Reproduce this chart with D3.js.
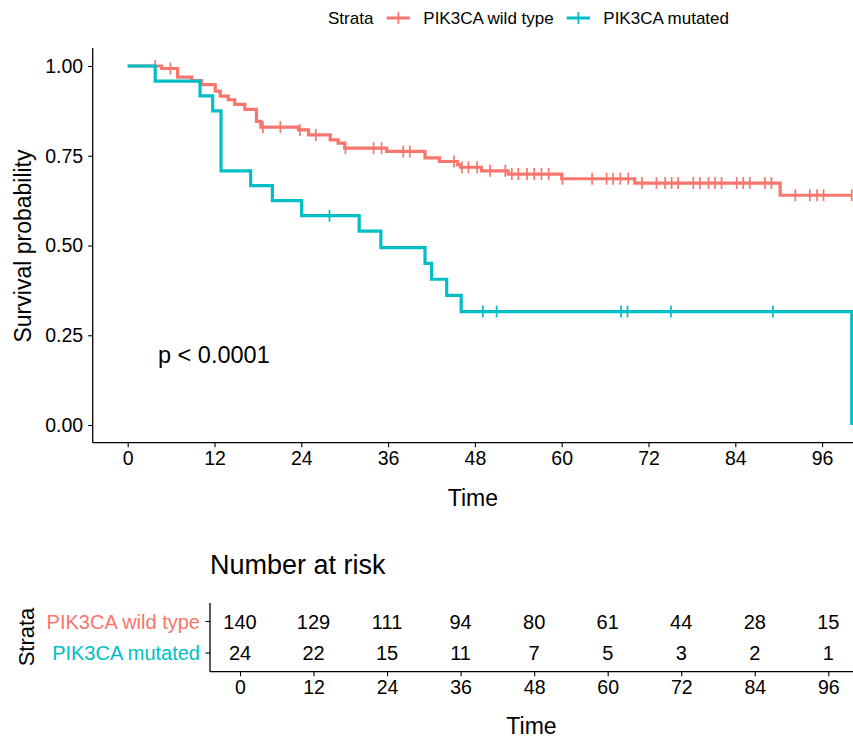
<!DOCTYPE html>
<html><head><meta charset="utf-8">
<script src="https://cdn.jsdelivr.net/npm/d3@7"></script>
<style>body{margin:0;background:#fff}svg{display:block;font-family:"Liberation Sans",Arial,sans-serif}</style>
</head><body><svg id="c" width="853" height="740"></svg>
<script>
// ---- data ----
const strata = ["PIK3CA wild type", "PIK3CA mutated"];
const colors = ["#F8766D", "#00BFC4"];
const wtTimes = [0,4.7,6.9,8.85,10.2,12.1,12.8,13.9,14.8,16.2,17.8,18.4,23.6,25.0,28.0,29.1,30.0,35.8,41.1,43.1,45.6,46.0,48.9,52.6,60.0,70.1,90.2];
const wtSurv  = [1,0.993,0.969,0.959,0.948,0.930,0.916,0.906,0.893,0.879,0.846,0.830,0.822,0.808,0.794,0.785,0.771,0.762,0.744,0.734,0.725,0.718,0.708,0.699,0.686,0.674,0.640];
const wtCensor = [3.8,5.9,18.7,21.1,23.8,26.0,30.1,34.0,35.1,38.1,39.0,45.1,46.2,47.1,48.3,50.1,52.2,53.1,54.0,55.2,56.2,57.2,58.2,60.1,64.2,66.2,67.1,68.1,69.2,71.1,73.1,74.3,75.2,76.1,78.2,79.1,80.3,81.2,82.1,84.2,85.1,86.0,88.1,89.0,92.3,94.3,95.3,96.2,100.1];
const wtEnd = 100.1;
const mutTimes = [0,3.8,10.0,11.75,12.9,17.0,20.0,24.05,32.0,35.0,41.1,42.0,44.1,46.1,100.1];
const mutSurv  = [1,0.958,0.917,0.875,0.708,0.667,0.625,0.583,0.540,0.494,0.450,0.406,0.361,0.316,0];
const mutCensor = [27.9,49.1,51.0,68.2,69.1,75.1,89.2];
const mutEnd = 100.1;
const xTicks = [0,12,24,36,48,60,72,84,96];
const yTicks = [0,0.25,0.5,0.75,1];
const wtRisk = [140,129,111,94,80,61,44,28,15];
const mutRisk = [24,22,15,11,7,5,3,2,1];
const pText = "p < 0.0001";

(function(){
const svg = d3.select("#c");
const FONT = 19.5;
const FF = '"Liberation Sans",Arial,sans-serif';
const x = d3.scaleLinear().domain([0,96]).range([127.7,822.1]);
const y = d3.scaleLinear().domain([0,1]).range([425,66]);
const pLeft = 92.7, pBottom = 442.7, pRight = 853, pTop = 48;

svg.append("defs").append("clipPath").attr("id","clip")
  .append("rect").attr("x",pLeft).attr("y",pTop-10).attr("width",pRight-pLeft).attr("height",pBottom-pTop+20);

const yAx = svg.append("g").attr("transform",`translate(${pLeft},0)`)
  .call(d3.axisLeft(y).tickValues(yTicks).tickFormat(d3.format(".2f")).tickSize(4.5).tickPadding(5));
const xAx = svg.append("g").attr("transform",`translate(0,${pBottom})`)
  .call(d3.axisBottom(x).tickValues(xTicks).tickSize(4.5).tickPadding(4));
[yAx,xAx].forEach(g=>{
  g.select(".domain").remove();
  g.selectAll(".tick line").attr("stroke","#000").attr("stroke-width",1.1);
  g.selectAll(".tick text").attr("fill","#000").style("font-size",FONT+"px").style("font-family",FF);
});
svg.append("line").attr("x1",pLeft).attr("x2",pLeft).attr("y1",pTop).attr("y2",pBottom).attr("stroke","#000").attr("stroke-width",1.3);
svg.append("line").attr("x1",pLeft).attr("x2",pRight).attr("y1",pBottom).attr("y2",pBottom).attr("stroke","#000").attr("stroke-width",1.3);

svg.append("text").attr("x",(pLeft+pRight)/2).attr("y",498).attr("dy","0.35em").attr("text-anchor","middle")
  .style("font-size","23px").text("Time");
svg.append("text").attr("transform","translate(23,246) rotate(-90)").attr("dy","0.35em").attr("text-anchor","middle")
  .style("font-size","23px").text("Survival probability");

const plot = svg.append("g").attr("clip-path","url(#clip)");
const line = d3.line().x(d=>x(d[0])).y(d=>y(d[1])).curve(d3.curveStepAfter);
function survAt(times, surv, t){ let s = surv[0]; for(let i=0;i<times.length;i++){ if(times[i]<=t) s = surv[i]; } return s; }
function drawCurve(times, surv, end, censor, col){
  const pts = times.map((t,i)=>[t,surv[i]]);
  if (end > times[times.length-1]) pts.push([end, surv[surv.length-1]]);
  plot.append("path").datum(pts).attr("d",line).attr("fill","none").attr("stroke",col).attr("stroke-width",3.2);
  plot.selectAll(null).data(censor).enter().append("line")
    .attr("x1",d=>x(d)).attr("x2",d=>x(d))
    .attr("y1",d=>y(survAt(times,surv,d))-6).attr("y2",d=>y(survAt(times,surv,d))+6)
    .attr("stroke",col).attr("stroke-width",1.7);
}
drawCurve(wtTimes, wtSurv, wtEnd, wtCensor, colors[0]);
drawCurve(mutTimes, mutSurv, mutEnd, mutCensor, colors[1]);

svg.append("text").attr("x",158).attr("y",355).attr("dy","0.35em").style("font-size","23.5px").text(pText);

const lg = svg.append("g");
lg.append("text").attr("x",328).attr("y",18).attr("dy","0.35em").style("font-size","17px").text("Strata");
const keyX = [386.7, 566.7], txtX = [423.3, 603.3];
strata.forEach((s,i)=>{
  lg.append("line").attr("x1",keyX[i]).attr("x2",keyX[i]+23.3).attr("y1",18).attr("y2",18).attr("stroke",colors[i]).attr("stroke-width",3);
  lg.append("line").attr("x1",keyX[i]+11.65).attr("x2",keyX[i]+11.65).attr("y1",12).attr("y2",24).attr("stroke",colors[i]).attr("stroke-width",1.7);
  lg.append("text").attr("x",txtX[i]).attr("y",18).attr("dy","0.35em").style("font-size","17px").text(s);
});

const xt = d3.scaleLinear().domain([0,96]).range([240,828.3]);
const tLeft = 210, tBottom = 671.7, tTop = 603;
const rowY = [621.5, 653];
svg.append("text").attr("x",210).attr("y",565).attr("dy","0.35em").style("font-size","27px").text("Number at risk");
const tx = svg.append("g").attr("transform",`translate(0,${tBottom})`)
  .call(d3.axisBottom(xt).tickValues(xTicks).tickSize(4.5).tickPadding(4));
tx.select(".domain").remove();
tx.selectAll(".tick line").attr("stroke","#000").attr("stroke-width",1.1);
tx.selectAll(".tick text").attr("fill","#000").style("font-size",FONT+"px").style("font-family",FF);
svg.append("line").attr("x1",tLeft).attr("x2",pRight).attr("y1",tBottom).attr("y2",tBottom).attr("stroke","#000").attr("stroke-width",1.3);
svg.append("line").attr("x1",tLeft).attr("x2",tLeft).attr("y1",tTop).attr("y2",tBottom).attr("stroke","#000").attr("stroke-width",1.3);
[wtRisk, mutRisk].forEach((row,i)=>{
  svg.append("line").attr("x1",tLeft-4.5).attr("x2",tLeft).attr("y1",rowY[i]).attr("y2",rowY[i]).attr("stroke","#000").attr("stroke-width",1.1);
  svg.append("text").attr("x",tLeft-10).attr("y",rowY[i]).attr("dy","0.35em").attr("text-anchor","end")
    .attr("fill",colors[i]).style("font-size","20px").text(strata[i]);
  svg.selectAll(null).data(row).enter().append("text")
    .attr("x",(d,j)=>xt(xTicks[j])).attr("y",rowY[i]).attr("dy","0.35em").attr("text-anchor","middle")
    .style("font-size","20px").text(d=>d);
});
svg.append("text").attr("transform","translate(26,637) rotate(-90)").attr("dy","0.35em").attr("text-anchor","middle")
  .style("font-size","22px").text("Strata");
svg.append("text").attr("x",(tLeft+pRight)/2).attr("y",726).attr("dy","0.35em").attr("text-anchor","middle")
  .style("font-size","23px").text("Time");
})();
</script></body></html>
